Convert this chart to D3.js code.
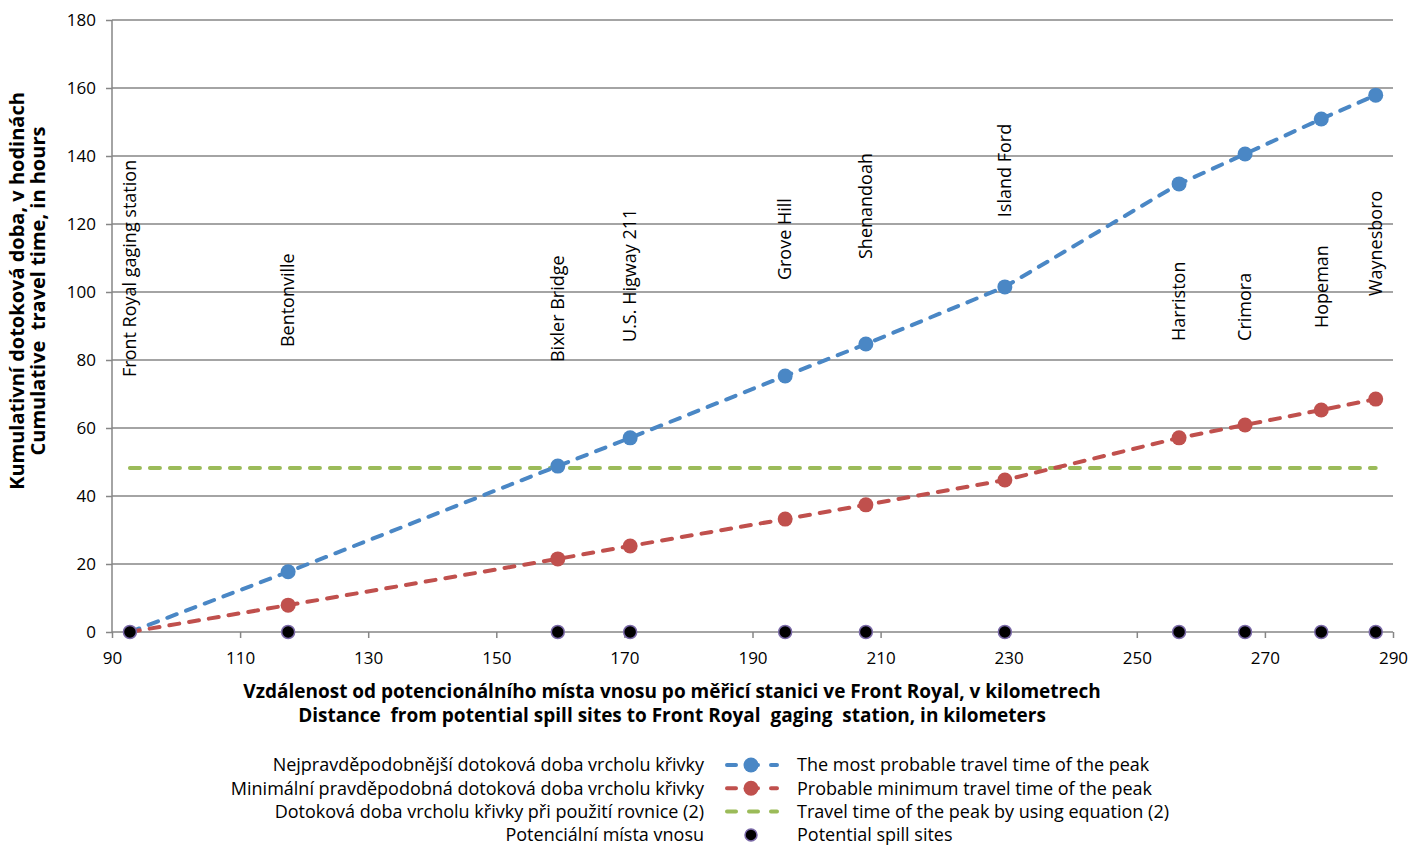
<!DOCTYPE html>
<html lang="cs">
<head>
  <meta charset="UTF-8">
  <title>Cumulative travel time</title>
  <script src="https://d3js.org/d3.v7.min.js"></script>
  <style>
    body { margin: 0; background: #fff; }
    svg text { font-family: "Open Sans", sans-serif; fill: #000; }
  </style>
</head>
<body>
  <svg id="chart" width="1411" height="846"></svg>
  <script>
    // stations (km from Front Royal) and travel times in hours
    let stations = ['Front Royal gaging station', 'Bentonville', 'Bixler Bridge', 'U.S. Higway 211', 'Grove Hill',
      'Shenandoah', 'Island Ford', 'Harriston', 'Crimora', 'Hopeman', 'Waynesboro'];
    let distance = [92.8, 117.5, 159.6, 170.9, 195.1, 207.7, 229.4, 256.6, 266.9, 278.8, 287.3];
    let mostProbable = [0, 17.7, 48.8, 57.1, 75.3, 84.7, 101.5, 131.8, 140.6, 150.9, 157.9];
    let probableMin = [0, 7.9, 21.5, 25.3, 33.2, 37.4, 44.7, 57.1, 60.9, 65.3, 68.5];
    let equation2 = [48.2, 48.2, 48.2, 48.2, 48.2, 48.2, 48.2, 48.2, 48.2, 48.2, 48.2];
    let spillSites = [0, 0, 0, 0, 0, 0, 0, 0, 0, 0, 0];
    // height (hours) where each station name starts
    let labelAt = [75, 83.8, 79.4, 85.3, 103.5, 109.7, 122, 85.6, 85.6, 89.4, 98.8];

    let xTicks = d3.range(90, 291, 20);
    let yTicks = d3.range(0, 181, 20);

    let legendCz = ['Nejpravděpodobnější dotoková doba vrcholu křivky',
      'Minimální pravděpodobná dotoková doba vrcholu křivky',
      'Dotoková doba vrcholu křivky při použití rovnice (2)',
      'Potenciální místa vnosu'];
    let legendEn = ['The most probable travel time of the peak',
      'Probable minimum travel time of the peak',
      'Travel time of the peak by using equation (2)',
      'Potential spill sites'];

    let blue = '#4a87c5', red = '#c0504d', green = '#9bbb59', grid = '#868686';

    let svg = d3.select('#chart');
    let x = d3.scaleLinear().domain([90, 290]).range([112, 1393]);
    let y = d3.scaleLinear().domain([0, 180]).range([632, 20]);

    // horizontal grid
    svg.append('g')
      .selectAll('line')
      .data(yTicks)
      .join('line')
      .attr('x1', x(90)).attr('x2', x(290))
      .attr('y1', function (d) { return y(d); })
      .attr('y2', function (d) { return y(d); })
      .attr('stroke', grid).attr('stroke-width', 1.5);

    let axisLeft = d3.axisLeft(y).tickValues(yTicks).tickSize(6).tickPadding(10);
    let gy = svg.append('g').attr('transform', 'translate(' + x(90) + ',0)').call(axisLeft);
    gy.attr('font-size', null).attr('font-family', null);
    gy.select('.domain').attr('stroke', grid).attr('stroke-width', 1.5).attr('d', 'M0,' + y(0) + 'V' + y(180));
    gy.selectAll('.tick line').attr('stroke', grid).attr('stroke-width', 1.5);
    gy.selectAll('.tick text').style('font-size', '17px');

    let axisBottom = d3.axisBottom(x).tickValues(xTicks).tickSize(6).tickPadding(14);
    let gx = svg.append('g').attr('transform', 'translate(0,' + y(0) + ')').call(axisBottom);
    gx.attr('font-size', null).attr('font-family', null);
    gx.select('.domain').remove();
    gx.selectAll('.tick line').attr('stroke', grid).attr('stroke-width', 1.5);
    gx.selectAll('.tick text').style('font-size', '17px');

    // station names
    svg.append('g')
      .selectAll('text')
      .data(stations)
      .join('text')
      .attr('transform', function (d, i) {
        return 'translate(' + x(distance[i]) + ',' + y(labelAt[i]) + ') rotate(-90)';
      })
      .attr('dy', '0.35em')
      .style('font-size', '18px')
      .text(function (d) { return d; });

    let line = d3.line()
      .x(function (d) { return x(d[0]); })
      .y(function (d) { return y(d[1]); });

    function series(values) {
      return distance.map(function (d, i) { return [d, values[i]]; });
    }

    function dashed(values, color) {
      svg.append('path')
        .datum(series(values))
        .attr('d', line)
        .attr('fill', 'none')
        .attr('stroke', color)
        .attr('stroke-width', 4)
        .attr('stroke-linecap', 'round')
        .attr('stroke-dasharray', '10,10');
    }

    function dots(values, color, r) {
      svg.append('g')
        .selectAll('circle')
        .data(series(values).slice(1))
        .join('circle')
        .attr('cx', function (d) { return x(d[0]); })
        .attr('cy', function (d) { return y(d[1]); })
        .attr('r', r)
        .attr('fill', color);
    }

    dashed(equation2, green);
    dashed(mostProbable, blue);
    dots(mostProbable, blue, 7.5);
    dashed(probableMin, red);
    dots(probableMin, red, 7.5);

    svg.append('g')
      .selectAll('circle')
      .data(series(spillSites))
      .join('circle')
      .attr('cx', function (d) { return x(d[0]); })
      .attr('cy', function (d) { return y(d[1]); })
      .attr('r', 6.5)
      .attr('fill', '#000')
      .attr('stroke', '#7b6aa8')
      .attr('stroke-width', 1.5);

    // axis titles
    let yTitle = svg.append('text')
      .attr('transform', 'translate(24,291) rotate(-90)')
      .attr('text-anchor', 'middle')
      .style('font-size', '20px')
      .style('white-space', 'pre')
      .attr('font-weight', 'bold');
    yTitle.append('tspan').attr('x', 0).attr('dy', 0).text('Kumulativní dotoková doba, v hodinách');
    yTitle.append('tspan').attr('x', 0).attr('dy', 21).text('Cumulative  travel time, in hours');

    let xTitle = svg.append('text')
      .attr('transform', 'translate(672,698)')
      .attr('text-anchor', 'middle')
      .style('font-size', '19px')
      .attr('font-weight', 'bold')
      .style('white-space', 'pre');
    xTitle.append('tspan').attr('x', 0).attr('dy', 0)
      .text('Vzdálenost od potencionálního místa vnosu po měřicí stanici ve Front Royal, v kilometrech');
    xTitle.append('tspan').attr('x', 0).attr('dy', 24)
      .text('Distance  from potential spill sites to Front Royal  gaging  station, in kilometers');

    // legend
    let legendColors = [blue, red, green, '#000'];
    let rows = svg.append('g')
      .selectAll('g')
      .data(legendCz)
      .join('g')
      .attr('transform', function (d, i) { return 'translate(0,' + (765 + i * 23.3) + ')'; });

    rows.append('text')
      .attr('x', 704).attr('dy', '0.35em')
      .attr('text-anchor', 'end')
      .style('font-size', '18px')
      .text(function (d) { return d; });

    rows.append('text')
      .attr('x', 797).attr('dy', '0.35em')
      .style('font-size', '18px')
      .text(function (d, i) { return legendEn[i]; });

    rows.filter(function (d, i) { return i < 3; })
      .append('line')
      .attr('x1', 727).attr('x2', 777)
      .attr('stroke', function (d, i) { return legendColors[i]; })
      .attr('stroke-width', 4)
      .attr('stroke-linecap', 'round')
      .attr('stroke-dasharray', '9,13');

    rows.filter(function (d, i) { return i < 2; })
      .append('circle')
      .attr('cx', 751).attr('r', 7.5)
      .attr('fill', function (d, i) { return legendColors[i]; });

    rows.filter(function (d, i) { return i === 3; })
      .append('circle')
      .attr('cx', 751).attr('r', 6)
      .attr('fill', '#000')
      .attr('stroke', '#7b6aa8')
      .attr('stroke-width', 1.5);
  </script>
</body>
</html>
